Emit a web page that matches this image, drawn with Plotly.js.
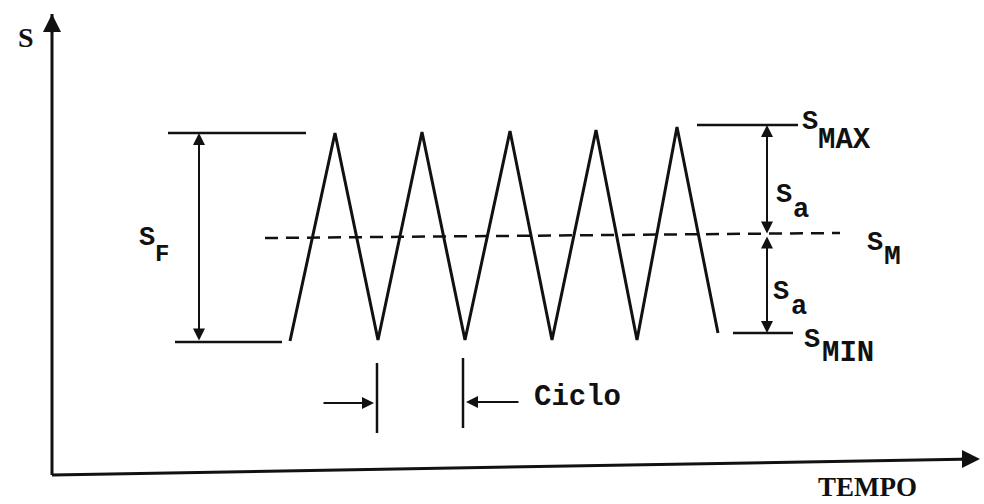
<!DOCTYPE html>
<html>
<head>
<meta charset="utf-8">
<script src="https://cdn.plot.ly/plotly-3.0.1.min.js"></script>
<style>html,body{margin:0;padding:0;background:#fff;}#chart{width:984px;height:504px;}</style>
</head>
<body>
<div id="chart"></div>
<script>
// Cyclic stress history (time units, stress units)
const waveTime   = [290, 335, 378, 422, 465, 510, 552, 596, 637, 677, 718];
const waveStress = [163, 371, 164, 372, 164, 373, 164, 374, 164, 377, 171];
// Reference levels
const sMax = 379, sMin = 171, sMeanLeft = 266, sMeanRight = 271;
const sFTop = 371, sFBottom = 162;
const meanStart = 265, meanEnd = 840;
// Cycle markers
const cycleStart = 377, cycleEnd = 463;

const ink = '#111';
const mono = 'Liberation Mono, Courier New, monospace';
const serif = 'Liberation Serif, Times New Roman, serif';

const traces = [
  {x: waveTime, y: waveStress, mode: 'lines', line: {color: ink, width: 3}, hoverinfo: 'skip'},
  {x: [meanStart, meanEnd], y: [sMeanLeft, sMeanRight], mode: 'lines', line: {color: ink, width: 2.5, dash: '13px,8px'}, hoverinfo: 'skip'},
  // S_F limits
  {x: [168, 306], y: [sFTop, sFTop], mode: 'lines', line: {color: ink, width: 2.5}, hoverinfo: 'skip'},
  {x: [175, 282], y: [sFBottom, sFBottom], mode: 'lines', line: {color: ink, width: 2.5}, hoverinfo: 'skip'},
  // S_MAX / S_MIN lines
  {x: [697, 798], y: [sMax, sMax], mode: 'lines', line: {color: ink, width: 2.5}, hoverinfo: 'skip'},
  {x: [733, 793], y: [sMin, sMin], mode: 'lines', line: {color: ink, width: 2.5}, hoverinfo: 'skip'},
  // axes
  {x: [52, 52], y: [29, 490], mode: 'lines', line: {color: ink, width: 3}, hoverinfo: 'skip'},
  {x: [52, 975], y: [29, 45], mode: 'lines', line: {color: ink, width: 3}, hoverinfo: 'skip'},
  // cycle markers
  {x: [cycleStart, cycleStart], y: [141, 71], mode: 'lines', line: {color: ink, width: 2.5}, hoverinfo: 'skip'},
  {x: [cycleEnd, cycleEnd], y: [146, 76], mode: 'lines', line: {color: ink, width: 2.5}, hoverinfo: 'skip'}
];

function arrow(x, y, ax, ay, side, w) {
  return {x: x, y: y, ax: ax, ay: ay, axref: 'x', ayref: 'y', xref: 'x', yref: 'y',
    text: '', showarrow: true, arrowhead: 2, arrowsize: 1.2, arrowwidth: w || 2,
    arrowcolor: ink, arrowside: side || 'end', standoff: 0, startstandoff: 0};
}
function label(t, x, y, size, fam) {
  return {x: x, y: y, xref: 'x', yref: 'y', text: '<b>' + t + '</b>', showarrow: false,
    font: {family: fam || mono, size: size, color: ink}, xanchor: 'center', yanchor: 'middle'};
}

const annotations = [
  arrow(52, 490, 52, 470, 'end', 3),
  arrow(980, 45, 960, 45, 'end', 3),
  arrow(199, sFTop, 199, sFBottom, 'end+start', 2),
  arrow(767, sMax, 767, 269, 'end+start', 2),
  arrow(767, sMin, 767, 269, 'end+start', 2),
  arrow(cycleStart - 3, 101, 322, 101, 'end', 2),
  arrow(cycleEnd + 3, 102, 520, 102, 'end', 2),
  label('S', 26, 467, 28, serif),
  label('S', 147, 266, 27),
  label('F', 162, 250, 24),
  label('S', 810, 382, 27),
  label('MAX', 844, 364, 29),
  label('S', 784, 309, 27),
  label('a', 801, 294, 27),
  label('S', 781, 212, 27),
  label('a', 799, 197, 27),
  label('S', 875, 261, 27),
  label('M', 892, 248, 28),
  label('S', 812, 164, 27),
  label('MIN', 848, 151, 29),
  label('Ciclo', 577, 107, 29),
  label('TEMPO', 867, 17, 27, serif)
];

const layout = {
  width: 984, height: 504,
  margin: {l: 0, r: 0, t: 0, b: 0},
  paper_bgcolor: '#fff', plot_bgcolor: '#fff',
  showlegend: false,
  xaxis: {range: [0, 984], visible: false, fixedrange: true},
  yaxis: {range: [0, 504], visible: false, fixedrange: true},
  annotations: annotations
};

Plotly.newPlot('chart', traces, layout, {staticPlot: true, displayModeBar: false});
</script>
</body>
</html>
